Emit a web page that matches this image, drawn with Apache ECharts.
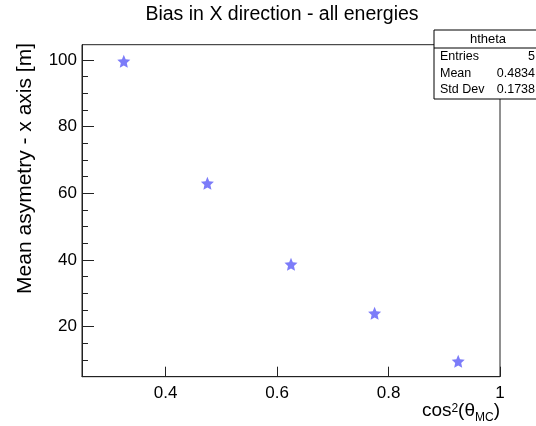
<!DOCTYPE html>
<html>
<head>
<meta charset="utf-8">
<script src="https://cdn.jsdelivr.net/npm/echarts@6/dist/echarts.min.js"></script>
<style>
  html, body { margin: 0; padding: 0; background: #fff; }
  #chart { width: 536px; height: 426px; }
</style>
</head>
<body>
<div id="chart"></div>
<script>
// cos^2(theta_MC) bin centres and mean asymmetry
var xValues = [0.325, 0.475, 0.625, 0.775, 0.925];
var yValues = [99.6, 63.0, 38.7, 24.0, 9.6];

// tick labels
var xTicks = [0.4, 0.6, 0.8, 1];
var yTicks = [20, 40, 60, 80, 100];
var yMinorTicks = [10, 15, 25, 30, 35, 45, 50, 55, 65, 70, 75, 85, 90, 95];

// stats box
var statNames = ['Entries', 'Mean', 'Std Dev'];
var statValues = ['5', '0.4834', '0.1738'];

var FONT = 'Liberation Sans, Arial, Helvetica, sans-serif';
// fat ROOT-like full star
var star = 'path://M50,0 L64,32 L100,36 L73,59 L81,95 L50,77 L19,95 L27,59 L0,36 L36,32 Z';

var chart = echarts.init(document.getElementById('chart'));

var points = xValues.map(function (x, i) { return [x, yValues[i]]; });

// stats box graphic
var statEls = [
  { type: 'rect', shape: { x: 434, y: 30, width: 120, height: 69 },
    style: { fill: '#fff', stroke: '#000', lineWidth: 1 } },
  { type: 'line', shape: { x1: 434, y1: 48, x2: 540, y2: 48 },
    style: { stroke: '#000', lineWidth: 1 } },
  { type: 'text', x: 488, y: 39,
    style: { text: 'htheta', font: '13px ' + FONT, fill: '#000', align: 'center', verticalAlign: 'middle' } }
];
statNames.forEach(function (n, i) {
  statEls.push({ type: 'text', x: 440, y: 57 + i * 16.5,
    style: { text: n, font: '12.5px ' + FONT, fill: '#000', align: 'left', verticalAlign: 'middle' } });
  statEls.push({ type: 'text', x: 535, y: 57 + i * 16.5,
    style: { text: statValues[i], font: '12.5px ' + FONT, fill: '#000', align: 'right', verticalAlign: 'middle' } });
});

var option = {
  backgroundColor: '#fff',
  animation: false,
  title: {
    text: 'Bias in X direction - all energies',
    left: 282,
    textAlign: 'center',
    top: 5,
    padding: 0,
    textStyle: { fontFamily: FONT, fontSize: 19.5, fontWeight: 'normal', color: '#000' }
  },
  grid: {
    left: 82, right: 36, top: 44.7, bottom: 49.3,
    show: true, borderColor: '#222', borderWidth: 1, backgroundColor: 'transparent'
  },
  xAxis: {
    type: 'value',
    min: 0.25,
    max: 1,
    axisLine: { show: true, lineStyle: { color: '#222' } },
    axisTick: { show: true, inside: true, length: 10, customValues: xTicks, lineStyle: { color: '#222' } },
    axisLabel: { customValues: xTicks, margin: 8, fontFamily: FONT, fontSize: 17, color: '#000' },
    splitLine: { show: false }
  },
  yAxis: [
    {
      type: 'value',
      min: 5,
      max: 104.6,
      axisLine: { show: true, lineStyle: { color: '#222' } },
      axisTick: { show: true, inside: true, length: 12, customValues: yTicks, lineStyle: { color: '#222' } },
      axisLabel: { customValues: yTicks, margin: 5, fontFamily: FONT, fontSize: 17, color: '#000' },
      splitLine: { show: false }
    },
    {
      type: 'value',
      position: 'left',
      min: 5,
      max: 104.6,
      axisLine: { show: false },
      axisTick: { show: true, inside: true, length: 6, customValues: yMinorTicks, lineStyle: { color: '#222' } },
      axisLabel: { show: false },
      splitLine: { show: false }
    }
  ],
  graphic: [
    { type: 'text', x: 25, y: 43, rotation: Math.PI / 2,
      style: { text: 'Mean asymetry - x axis [m]', font: '21px ' + FONT, fill: '#000',
        align: 'right', verticalAlign: 'middle' } },
    { type: 'text', x: 500, y: 411,
      style: {
        text: '{a|cos}{s|2}{a|(θ}{b|MC}{a|)}',
        align: 'right', verticalAlign: 'middle',
        rich: {
          a: { fontFamily: FONT, fontSize: 19, lineHeight: 26, fill: '#000', verticalAlign: 'middle' },
          s: { fontFamily: FONT, fontSize: 12, lineHeight: 14, padding: [5, 0, 0, 0], fill: '#000', verticalAlign: 'top' },
          b: { fontFamily: FONT, fontSize: 12, lineHeight: 12, fill: '#000', verticalAlign: 'bottom' }
        }
      } },
    { type: 'group', z: 100, children: statEls }
  ],
  series: [{
    type: 'scatter',
    data: points,
    symbol: star,
    symbolSize: 13,
    itemStyle: { color: '#5b5bf7' }
  }]
};

chart.setOption(option);
</script>
</body>
</html>
